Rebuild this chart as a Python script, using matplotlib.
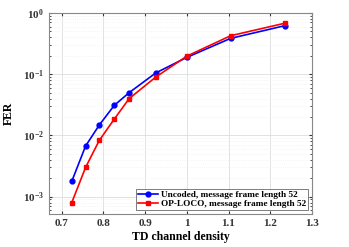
# FER vs TD channel density, uncoded vs OP-LOCO (frame length 52)
import matplotlib
matplotlib.use('Agg')
import matplotlib.pyplot as plt

density = [0.7246, 0.7576, 0.7905, 0.8264, 0.8621, 0.9259, 1.0, 1.1050, 1.2346]
fer_uncoded = [1.78e-3, 6.7e-3, 1.48e-2, 3.1e-2, 5.0e-2, 1.05e-1, 1.88e-1, 3.85e-1, 6.2e-1]
fer_oploco = [8.0e-4, 3.0e-3, 8.3e-3, 1.85e-2, 4.0e-2, 9.0e-2, 1.97e-1, 4.25e-1, 6.8e-1]
labels = ['Uncoded, message frame length 52', 'OP-LOCO, message frame length 52']

plt.rcParams['font.family'] = ['Liberation Serif', 'DejaVu Serif']
plt.rcParams['font.weight'] = 'bold'

fig = plt.figure(figsize=(3.49, 2.47), dpi=100)
ax = fig.add_axes([49/349, 1 - 214/247, (312-49)/349, (214-13)/247])

ax.semilogy(density, fer_uncoded, '-o', color='blue', lw=1.2, ms=3.5, label=labels[0])
ax.semilogy(density, fer_oploco, '-s', color='red', lw=1.2, ms=3.5, label=labels[1])

ax.set_xlim(0.67, 1.3)
ax.set_ylim(5.2e-4, 1)
ax.set_xticks([0.7, 0.8, 0.9, 1.0, 1.1, 1.2, 1.3])
ax.set_xticklabels(['0.7', '0.8', '0.9', '1', '1.1', '1.2', '1.3'])
ax.grid(True, which='major', color='#dddddd', lw=0.6)
ax.grid(True, which='minor', axis='y', color='#eeeeee', lw=0.5, ls=':')
ax.tick_params(which='both', direction='in', top=True, right=True, labelsize=8,
               colors='#333333', length=2.5)
ax.tick_params(which='minor', length=1.5)
for s in ax.spines.values():
    s.set_color('#888888')
    s.set_linewidth(0.8)

ax.set_xlabel('TD channel density', fontsize=8.5, fontweight='bold', labelpad=2)
ax.set_ylabel('FER', fontsize=8.5, fontweight='bold', labelpad=6)

leg = ax.legend(loc='lower right', fontsize=6.7, frameon=True, fancybox=False,
                edgecolor='#444444', borderpad=0.2, handlelength=2.2,
                handletextpad=0.3, labelspacing=0.1, borderaxespad=0.4)
leg.get_frame().set_linewidth(0.6)

fig.savefig('out.png', dpi=100)
